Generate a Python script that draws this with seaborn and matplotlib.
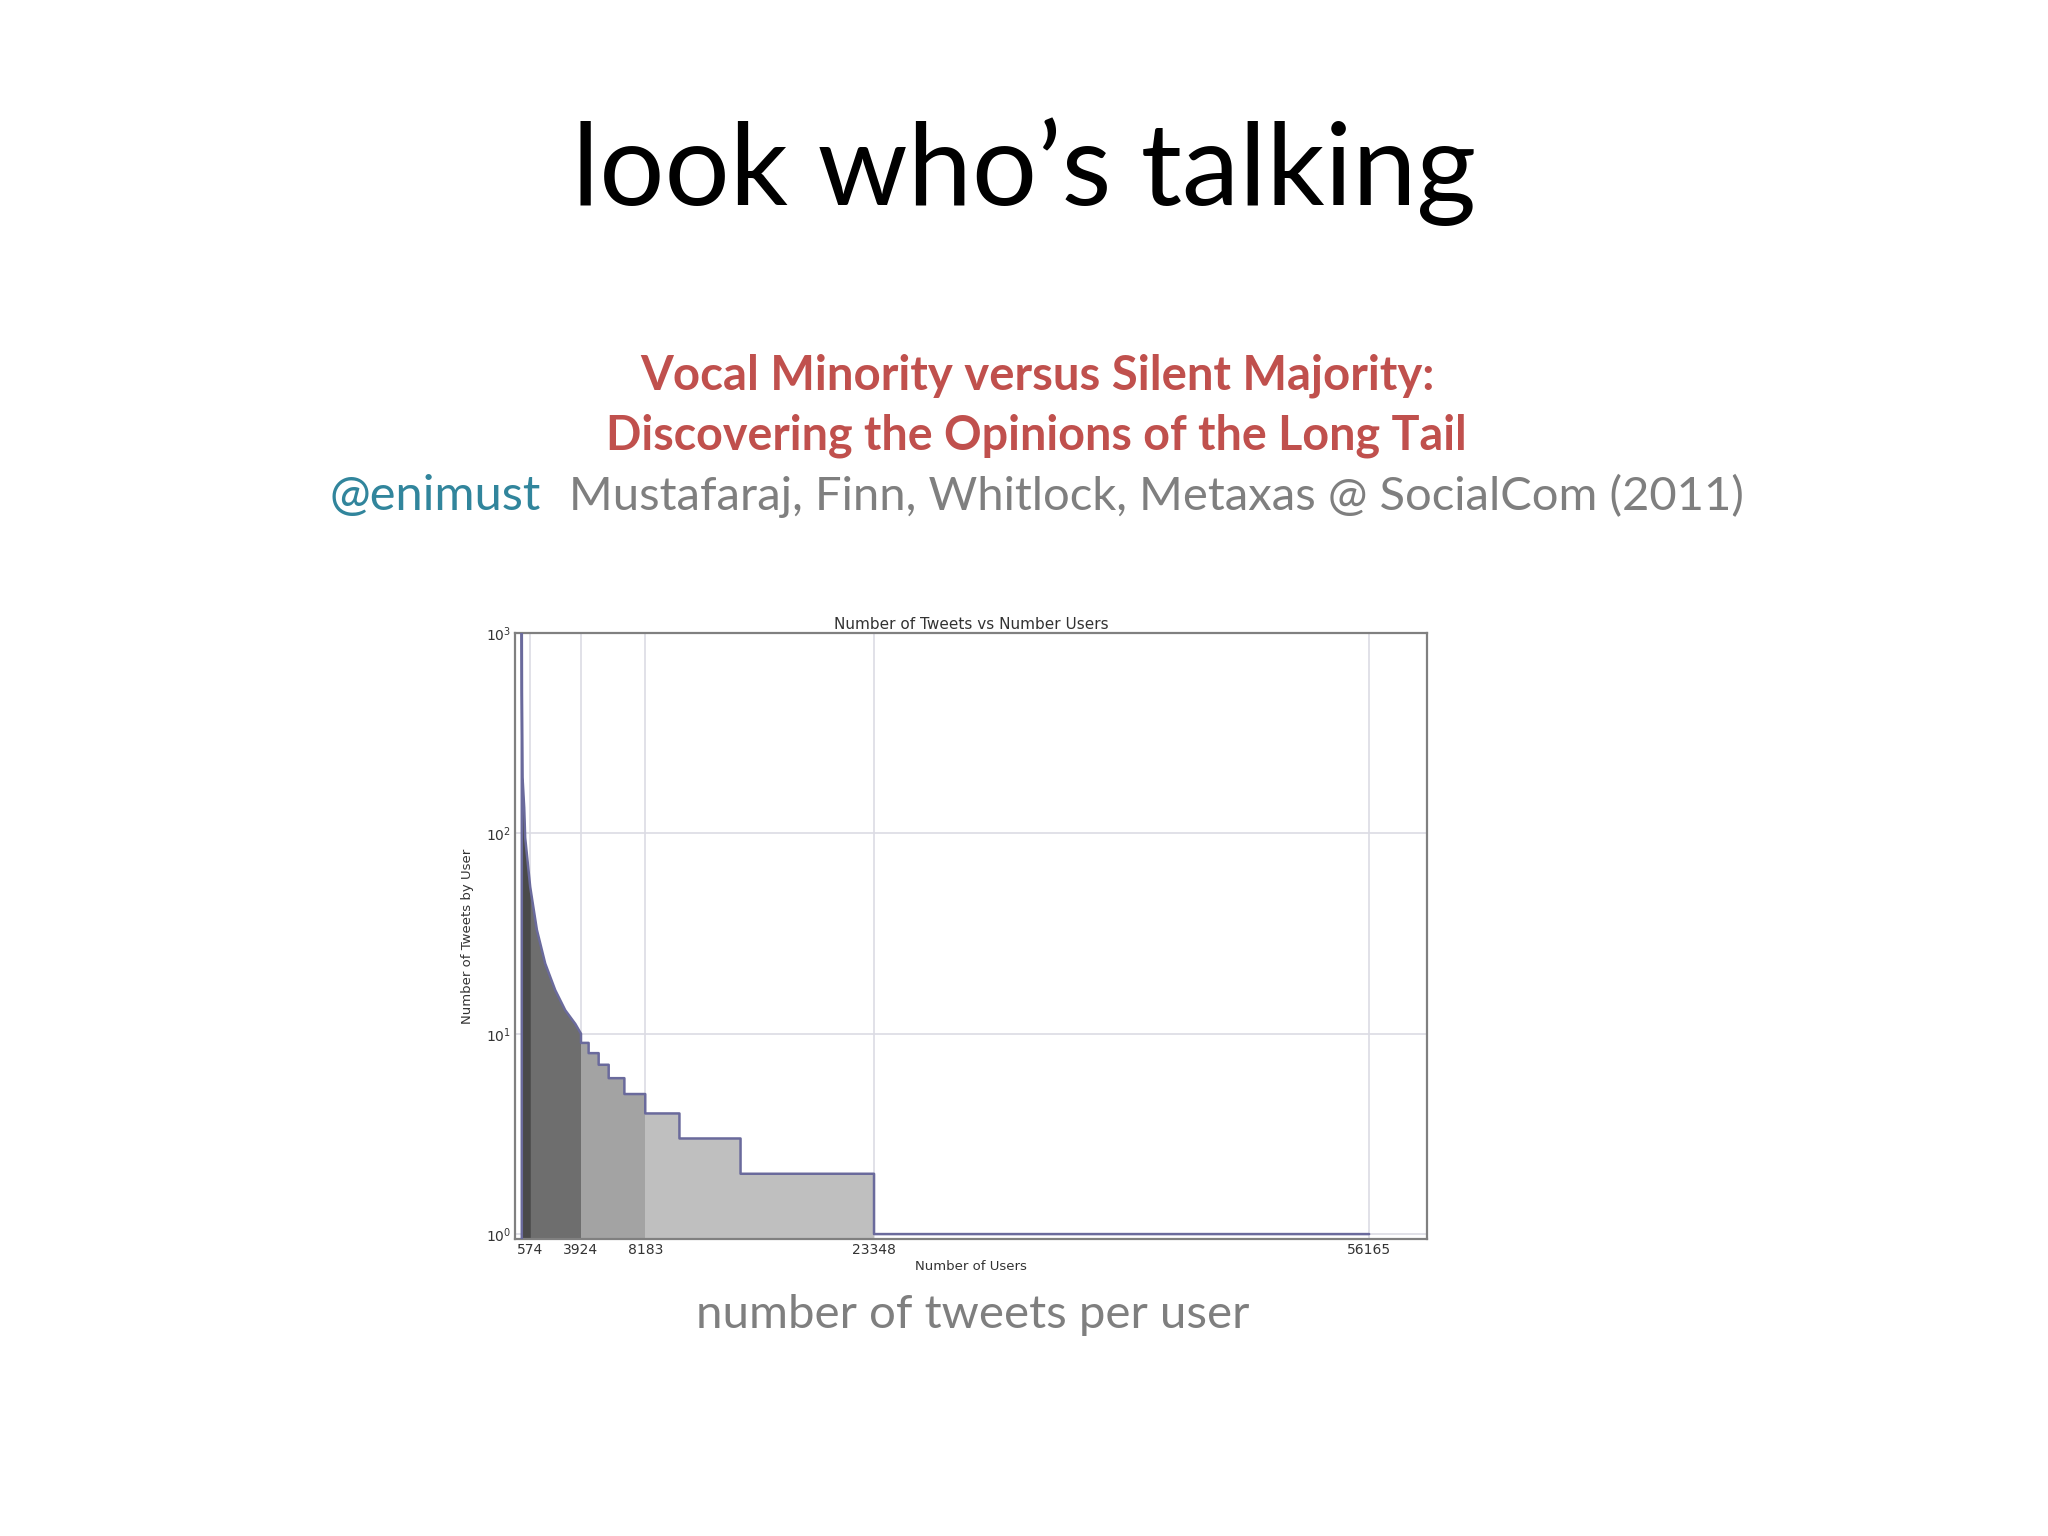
import numpy as np
import pandas as pd
import matplotlib
matplotlib.use("Agg")
import matplotlib.pyplot as plt
import seaborn as sns

# ---------------- data ----------------
# smooth head of the distribution: users (cumulative) vs tweets per user
curve_users = [0, 10, 50, 160, 225, 558, 1000, 1553, 2217, 2880, 3545, 3924]
curve_tweets = [1000, 500, 190, 134, 95, 54, 33, 22.4, 16.5, 13.1, 11.2, 10]
# stepped tail
step_edges = [3924, 4430, 5095, 5760, 6800, 8183, 10450, 14500, 23348, 56165]
step_tweets = [9, 8, 7, 6, 5, 4, 3, 2, 1]
# shaded groups of users
group_bounds = [0, 574, 3924, 8183, 23348]
group_colors = ["#4a4a4a", "#6e6e6e", "#a3a3a3", "#bfbfbf"]
x_ticks = [574, 3924, 8183, 23348, 56165]
y_ticks = [1, 10, 100, 1000]

title_text = "look who\u2019s talking"
paper_line1 = "Vocal Minority versus Silent Majority:"
paper_line2 = "Discovering the Opinions of the Long Tail"
handle_text = "@enimust"
authors_text = "Mustafaraj, Finn, Whitlock, Metaxas @ SocialCom (2011)"
caption_text = "number of tweets per user"
chart_title = "Number of Tweets vs Number Users"
x_label = "Number of Users"
y_label = "Number of Tweets by User"

# ---------------- style ----------------
sns.set_style("white")
plt.rcParams["font.family"] = ["DejaVu Sans"]

W, H = 2048, 1536
fig = plt.figure(figsize=(W / 100, H / 100), dpi=100)
fig.patch.set_facecolor("white")

ybot = 0.945
ax = fig.add_axes([515 / W, 1 - 1239 / H, 912 / W, 606 / H])
ax.set_yscale("log")
ax.set_xlim(-450, 60000)
ax.set_ylim(ybot, 1000)

# build outline vertices from the data
cu = np.array(curve_users, float)
ct = np.array(curve_tweets, float)
# insert a vertex at the first group boundary (interpolated in log space)
extra = [b for b in group_bounds[1:] if cu[0] < b < cu[-1] and b not in cu]
for b in extra:
    yb = 10 ** np.interp(b, cu, np.log10(ct))
    i = np.searchsorted(cu, b)
    cu = np.insert(cu, i, b)
    ct = np.insert(ct, i, yb)
ox = [0.0] + list(cu)
oy = [ybot] + list(ct)
for i, t in enumerate(step_tweets):
    ox += [step_edges[i], step_edges[i + 1]]
    oy += [t, t]
ox = np.array(ox)
oy = np.array(oy)

# fills
for (a, b), col in zip(zip(group_bounds[:-1], group_bounds[1:]), group_colors):
    m = (ox >= a) & (ox <= b)
    ax.fill_between(ox[m], oy[m], ybot, color=col, lw=0, zorder=2)

# outline via seaborn
edge = "#6a6a9c"
df = pd.DataFrame({"users": ox, "tweets": oy})
sns.lineplot(data=df, x="users", y="tweets", sort=False, estimator=None,
             color=edge, lw=1.8, ax=ax, zorder=3)

# grid and ticks
ax.set_axisbelow(True)
ax.set_xticks(x_ticks)
ax.set_xticklabels([str(v) for v in x_ticks])
ax.set_yticks(y_ticks)
ax.yaxis.set_minor_locator(matplotlib.ticker.NullLocator())
ax.grid(True, which="major", color="#dcdce4", lw=1.2)
ax.tick_params(axis="both", length=0, labelsize=10, labelcolor="#333333", pad=3)
for s in ax.spines.values():
    s.set_color("#808080")
    s.set_linewidth(1.6)
ax.set_title(chart_title, fontsize=11, color="#333333", pad=3)
ax.set_xlabel(x_label, fontsize=9.5, color="#333333", labelpad=2)
ax.set_ylabel(y_label, fontsize=9.5, color="#333333", labelpad=8)

# ---------------- slide text ----------------
renderer = fig.canvas.get_renderer()


def fit_text(x_px, y_px, s, width_px, ha="center", **kw):
    t = fig.text(x_px / W, 1 - y_px / H, s, ha=ha, va="baseline",
                 fontsize=20, **kw)
    bb = t.get_window_extent(renderer=renderer)
    t.set_fontsize(20 * width_px / bb.width)
    return t


fit_text(1024, 205, title_text, 904, family=["Lato", "DejaVu Sans"], color="black")
fit_text(1037, 389, paper_line1, 794, family=["Lato", "DejaVu Sans"],
         color="#c0504d", fontweight="bold")
fit_text(1036, 449, paper_line2, 861, family=["Lato", "DejaVu Sans"],
         color="#c0504d", fontweight="bold")
fit_text(330, 510, handle_text, 212, ha="left", family=["Lato", "DejaVu Sans"],
         color="#31859c")
fit_text(569, 510, authors_text, 1174, ha="left", family=["Lato", "DejaVu Sans"],
         color="#7f7f7f")
fit_text(973, 1328, caption_text, 555, family=["Lato", "DejaVu Sans"], color="#7f7f7f")

fig.savefig("out.png", dpi=100, facecolor="white")
